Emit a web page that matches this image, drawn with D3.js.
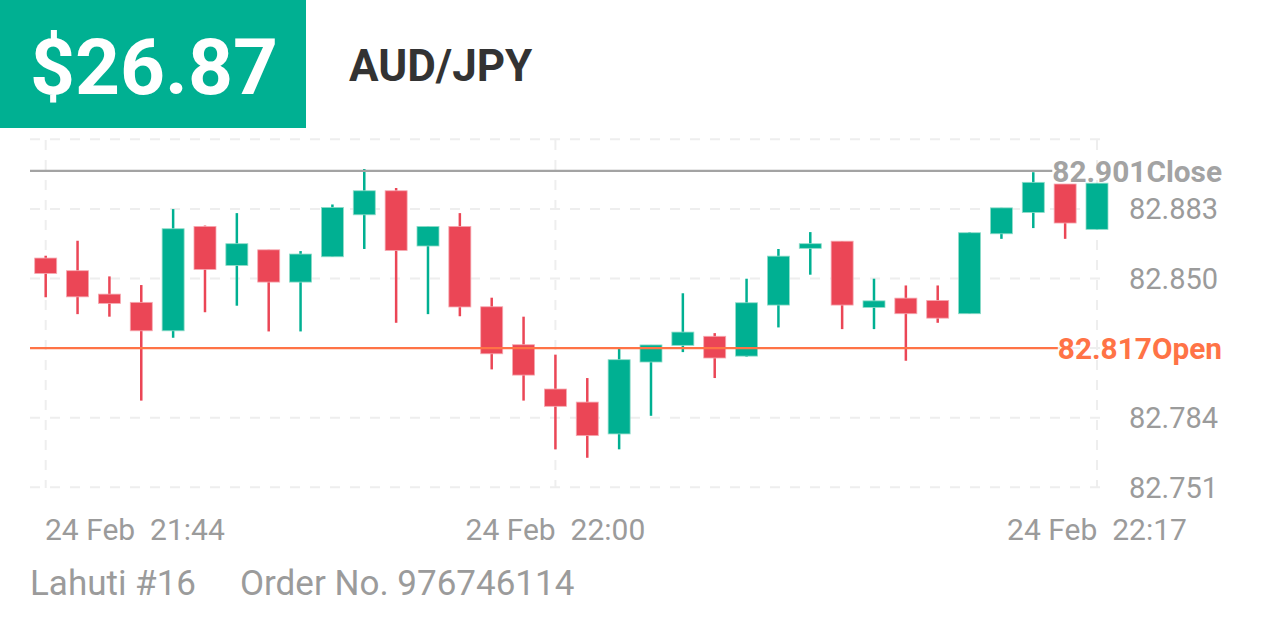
<!DOCTYPE html>
<html>
<head>
<meta charset="utf-8">
<script src="https://cdn.jsdelivr.net/npm/d3@7"></script>
<style>
  html, body { margin: 0; padding: 0; background: #fff; }
  svg { display: block; font-family: Roboto, "Noto Sans", sans-serif; }
</style>
</head>
<body>
<svg id="chart" width="1266" height="633"></svg>
<script>
// ---- data ----
const startTime = "2024-02-24T21:44:00";
const openVals  = [82.8597,82.8537,82.8426,82.8387,82.8252,82.8747,82.8562,82.8636,82.8483,82.8603,82.8802,82.8916,82.8654,82.8747,82.8366,82.8186,82.7976,82.7914,82.7763,82.8104,82.8183,82.8226,82.8132,82.8374,82.8643,82.8677,82.8363,82.8407,82.8396,82.8333,82.8712,82.8813,82.8948,82.8733];
const highVals  = [82.8608,82.8679,82.8510,82.8469,82.8829,82.8751,82.8810,82.8636,82.8630,82.8851,82.9019,82.8929,82.8747,82.8810,82.8409,82.8319,82.8139,82.8028,82.8166,82.8185,82.8430,82.8241,82.8499,82.8640,82.8720,82.8677,82.8499,82.8467,82.8467,82.8720,82.8835,82.9004,82.8948,82.8952];
const lowVals   = [82.8411,82.8331,82.8319,82.7921,82.8219,82.8340,82.8371,82.8249,82.8249,82.8603,82.8640,82.8290,82.8331,82.8321,82.8069,82.7921,82.7690,82.7650,82.7690,82.7849,82.8151,82.8028,82.8129,82.8268,82.8518,82.8260,82.8260,82.8110,82.8290,82.8333,82.8688,82.8739,82.8688,82.8732];
const closeVals = [82.8524,82.8413,82.8382,82.8252,82.8736,82.8543,82.8665,82.8483,82.8616,82.8837,82.8916,82.8633,82.8747,82.8365,82.8143,82.8042,82.7894,82.7755,82.8115,82.8185,82.8246,82.8123,82.8385,82.8606,82.8665,82.8374,82.8394,82.8333,82.8312,82.8717,82.8835,82.8956,82.8763,82.8952];
const yTickValues = [82.751, 82.784, 82.817, 82.850, 82.883, 82.916];
const yTickLabelsShown = [82.751, 82.784, 82.850, 82.883];
const xTickLabels = ["24 Feb\u00a0\u00a021:44", "24 Feb\u00a0\u00a022:00", "24 Feb\u00a0\u00a022:17"];
const xTickMinutes = [0, 16, 33];
const openPrice = 82.817;
const closePrice = 82.901;
const priceText = "$26.87";
const pairText = "AUD/JPY";
const footerName = "Lahuti #16";
const footerOrder = "Order No. 976746114";

// ---- styles ----
const GREEN = "#00b092";
const RED = "#eb4656";
const ORANGE = "#ff7346";
const GREY_LINE = "#a3a3a3";
const TEXT_GREY = "#9b9b9b";

const svg = d3.select("#chart");
const t0 = new Date(startTime);
const times = openVals.map((_, i) => new Date(t0.getTime() + i * 60000));
const candles = times.map((t, i) => ({ t, o: openVals[i], h: highVals[i], l: lowVals[i], c: closeVals[i] }));

const x = d3.scaleTime().domain([times[0], times[times.length - 1]]).range([45.7, 1097]);
const y = d3.scaleLinear().domain([82.751, 82.916]).range([487.3, 139.3]);

// header
svg.append("rect").attr("x", 0).attr("y", 0).attr("width", 306).attr("height", 128).attr("fill", GREEN);
svg.append("text").attr("x", 30).attr("y", 94).attr("fill", "#fff")
  .attr("font-size", 78.5).attr("font-weight", 700).text(priceText);
svg.append("text").attr("x", 349).attr("y", 81).attr("fill", "#333")
  .attr("font-size", 44).attr("font-weight", 700).text(pairText);

// grid
const grid = svg.append("g");
grid.selectAll("line.h").data(yTickValues).join("line")
  .attr("x1", 30).attr("x2", 1100)
  .attr("y1", d => y(d)).attr("y2", d => y(d))
  .attr("stroke", "#eeeeee").attr("stroke-width", 2).attr("stroke-dasharray", "10,10");
grid.selectAll("line.v").data(xTickMinutes).join("line")
  .attr("x1", d => x(times[d])).attr("x2", d => x(times[d]))
  .attr("y1", 140).attr("y2", 488)
  .attr("stroke", "#eeeeee").attr("stroke-width", 2).attr("stroke-dasharray", "10,10");

// y labels
svg.append("g").selectAll("text").data(yTickLabelsShown).join("text")
  .attr("x", 1129).attr("y", d => y(d)).attr("dy", "0.36em")
  .attr("font-size", 29).attr("fill", TEXT_GREY).text(d => d.toFixed(3));

// x labels
svg.append("g").selectAll("text").data(xTickMinutes).join("text")
  .attr("x", (d, i) => i === 0 ? 45 : x(times[d]))
  .attr("text-anchor", (d, i) => i === 0 ? "start" : "middle")
  .attr("y", 540).attr("font-size", 30).attr("fill", TEXT_GREY)
  .text((d, i) => xTickLabels[i]);

// open / close lines
function refLine(val, label, color) {
  const g = svg.append("g");
  const txt = g.append("text").attr("x", 1222).attr("y", y(val)).attr("dy", "0.36em")
    .attr("text-anchor", "end").attr("font-size", 29.8).attr("font-weight", 700)
    .attr("fill", color).text(val.toFixed(3) + label);
  const w = txt.node().getComputedTextLength();
  g.insert("line", "text").attr("x1", 30).attr("x2", 1222 - w)
    .attr("y1", y(val)).attr("y2", y(val)).attr("stroke", color).attr("stroke-width", 2.2);
}

// candles
const bw = 22;
const cg = svg.append("g");
const cs = cg.selectAll("g").data(candles).join("g");
cs.append("line")
  .attr("x1", d => x(d.t)).attr("x2", d => x(d.t))
  .attr("y1", d => y(d.h)).attr("y2", d => y(d.l))
  .attr("stroke", d => d.c >= d.o ? GREEN : RED).attr("stroke-width", 2.5);
cs.append("rect")
  .attr("x", d => x(d.t) - bw / 2).attr("width", bw)
  .attr("y", d => y(Math.max(d.o, d.c)))
  .attr("height", d => Math.max(2, Math.abs(y(d.o) - y(d.c))))
  .attr("fill", d => d.c >= d.o ? GREEN : RED)
  .attr("stroke", d => d.c >= d.o ? "#8fdcc9" : "#f6a9b1").attr("stroke-width", 0.8);

refLine(closePrice, "Close", GREY_LINE);
refLine(openPrice, "Open", ORANGE);

// footer
svg.append("text").attr("x", 30).attr("y", 595).attr("font-size", 35).attr("fill", TEXT_GREY).text(footerName);
svg.append("text").attr("x", 240).attr("y", 595).attr("font-size", 35).attr("fill", TEXT_GREY).text(footerOrder);
</script>
</body>
</html>
